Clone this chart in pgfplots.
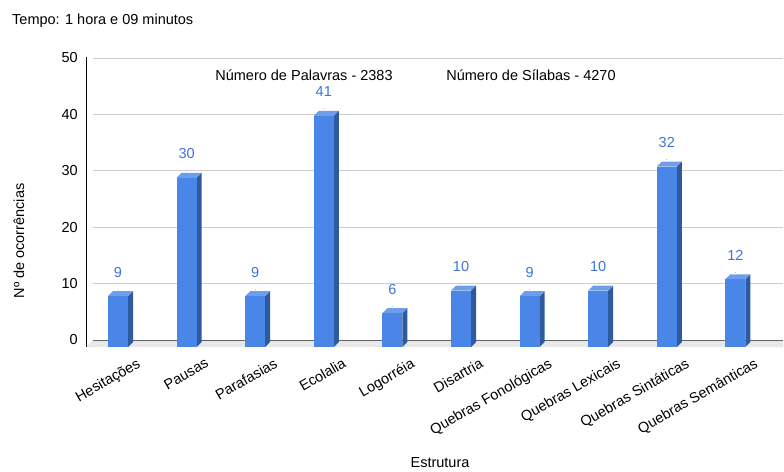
\documentclass[border=0pt]{standalone}
\usepackage{fontspec}
\setmainfont{Liberation Sans}
\usepackage{pgfplots}
\usepackage{pgfplotstable}
\pgfplotsset{compat=1.18}

\definecolor{barfront}{rgb}{0.290,0.525,0.910}
\definecolor{barside}{rgb}{0.184,0.357,0.620}
\definecolor{bartop}{rgb}{0.427,0.620,0.922}
\definecolor{lblblue}{rgb}{0.235,0.455,0.847}
\definecolor{gridline}{rgb}{0.80,0.80,0.81}
\definecolor{floorfill}{rgb}{0.91,0.91,0.915}
\definecolor{baseline}{rgb}{0.38,0.38,0.39}

% occurrences per structure category
\pgfplotstableread{
idx val
0 9
1 30
2 9
3 41
4 6
5 10
6 9
7 10
8 32
9 12
}\ocorrencias

\newcommand\chartfont{\fontsize{14.5}{17}\selectfont}

% shared geometry of the frame axis and the bar axis
\pgfplotsset{chartframe/.style={
  at={(86pt,-340pt)}, anchor=south west,
  scale only axis, width=697pt, height=282pt,
  xmin=-0.4665, xmax=9.694,
  ymin=0, ymax=50,
  clip=false,
  /pgf/number format/assume math mode=true,
}}

\begin{document}
\begin{tikzpicture}
\path (0pt,0pt) rectangle (784pt,-471pt);
\node[anchor=west, font=\chartfont, inner sep=0pt] at (12pt,-21pt) {Tempo: 1 hora e 09 minutos};
\node[rotate=90, font=\chartfont, inner sep=0pt] at (19pt,-241pt) {Nº de ocorrências};
\node[font=\chartfont, inner sep=0pt] at (440pt,-463pt) {Estrutura};
\node[font=\chartfont, inner sep=0pt] at (304pt,-75pt) {Número de Palavras - 2383};
\node[font=\chartfont, inner sep=0pt] at (531pt,-75pt) {Número de Sílabas - 4270};

% frame axis: tick labels only
\begin{axis}[
  chartframe,
  ytick={0,10,...,50},
  xtick={0,...,9},
  xticklabels={Hesitações, Pausas, Parafasias, Ecolalia, Logorréia, Disartria,
    Quebras Fonológicas, Quebras Lexicais, Quebras Sintáticas, Quebras Semânticas},
  axis line style={draw=none},
  major tick length=0pt,
  tick label style={font=\chartfont},
  yticklabel style={anchor=east, inner sep=0pt, xshift=-8pt},
  xticklabel style={inner sep=0pt, anchor=north east, xshift=18pt, yshift=-17pt, rotate=30},
]
\end{axis}

% back wall grid (10 units = 56.4pt), floor and axis line of the 3D frame,
% drawn as thin filled strips
\foreach \gy in {283.6,227.2,170.8,114.4,58}
  \fill[fill=gridline] (93pt,-\gy pt+0.5pt) rectangle (783pt,-\gy pt-0.5pt);
\fill[fill=floorfill] (86pt,-347pt) -- (93pt,-340pt) -- (783pt,-340pt) -- (783pt,-347pt) -- cycle;
\fill[fill=baseline] (93pt,-339.5pt) rectangle (783pt,-340.6pt);
\fill[fill=black] (85.5pt,-347pt) rectangle (86.6pt,-57pt);

% bar axis: bars drawn as prisms (front, side and top faces) with their value above
\begin{axis}[chartframe, hide axis]
\addplot[
  scatter, only marks, mark=*, mark size=0.1pt,
  visualization depends on={\thisrow{val} \as \barval},
  scatter/@pre marker code/.code={%
    \pgfmathsetmacro\ybot{-7-\barval*5.64}%
    \pgfmathsetmacro\ysb{-2-\barval*5.64}%
    \path[fill=barside, draw=none] (10pt,\ybot pt) -- (15pt,\ysb pt) -- (15pt,-2pt) -- (10pt,-7pt) -- cycle;
    \path[fill=bartop, draw=none] (-10pt,-7pt) -- (-5pt,-2pt) -- (15pt,-2pt) -- (10pt,-7pt) -- cycle;
    \path[fill=barfront, draw=none] (-10pt,\ybot pt) rectangle (10pt,-7pt);
    \node[font=\chartfont, text=lblblue, inner sep=0pt] at (0pt,17pt)
      {\pgfmathprintnumber[fixed, precision=0]{\barval}};
    \scope[color=barfront]%
  },
  scatter/@post marker code/.code={\endscope},
] table[x=idx, y=val] {\ocorrencias};
\end{axis}
\end{tikzpicture}
\end{document}
